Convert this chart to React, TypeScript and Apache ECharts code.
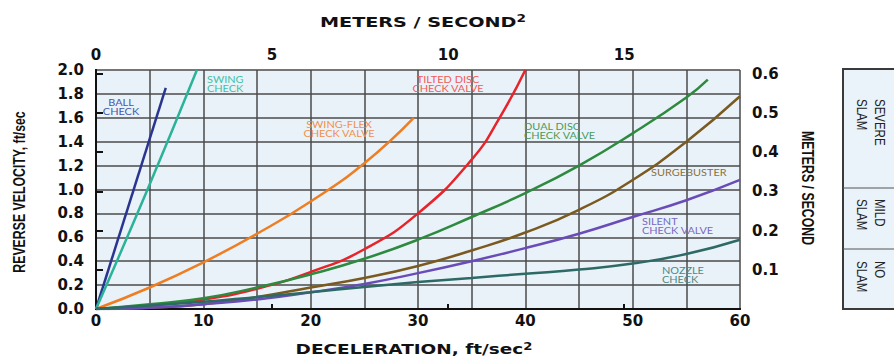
import React, { useEffect, useRef } from 'react';
import * as echarts from 'echarts';

const FT_PER_M = 3.28084;
const decelMax = 60;
const velocityMax = 2.0;
const bottomLabelValues = [0, 10, 20, 30, 40, 50, 60];
const topTickValues = [0, 5, 10, 15];
const rightTickValues = [0.1, 0.2, 0.3, 0.4, 0.5, 0.6];

const ballCheck = [[0, 0], [6.5, 1.85]];
const swingCheck = [[0, 0], [4.8, 1.0], [9.4, 2.0]];
const swingFlex = [[0, 0], [5, 0.18], [10, 0.39], [15, 0.63], [20, 0.9], [25, 1.22], [29.6, 1.6]];
const tiltedDisc = [[0, 0], [5, 0.03], [10, 0.08], [15, 0.17], [20, 0.31], [25, 0.5], [30, 0.8], [35, 1.25], [37.6, 1.6], [40, 2.0]];
const dualDisc = [[0, 0], [5, 0.04], [10, 0.09], [15, 0.18], [20, 0.29], [25, 0.42], [30, 0.58], [35, 0.77], [40, 0.97], [45, 1.2], [50, 1.47], [55, 1.77], [57, 1.92]];
const surgebuster = [[0, 0], [5, 0.01], [10, 0.04], [15, 0.1], [20, 0.18], [25, 0.26], [30, 0.36], [35, 0.49], [40, 0.64], [45, 0.83], [50, 1.08], [55, 1.4], [60, 1.78]];
const silentCheck = [[0, 0], [5, 0.01], [10, 0.04], [15, 0.08], [20, 0.14], [25, 0.21], [30, 0.3], [35, 0.4], [40, 0.51], [45, 0.63], [50, 0.77], [55, 0.91], [60, 1.08]];
const nozzleCheck = [[0, 0], [5, 0.03], [10, 0.06], [15, 0.1], [20, 0.14], [25, 0.185], [30, 0.225], [35, 0.26], [40, 0.295], [45, 0.33], [50, 0.38], [55, 0.46], [60, 0.58]];

const seriesDefs = [
  { name: 'Ball Check', data: ballCheck, color: '#2a3590' },
  { name: 'Swing Check', data: swingCheck, color: '#2bb39a' },
  { name: 'Swing-Flex Check Valve', data: swingFlex, color: '#ef7d22' },
  { name: 'Tilted Disc Check Valve', data: tiltedDisc, color: '#e8232a' },
  { name: 'Dual Disc Check Valve', data: dualDisc, color: '#2d8a3e' },
  { name: 'Surgebuster', data: surgebuster, color: '#7a5a20' },
  { name: 'Silent Check Valve', data: silentCheck, color: '#6a4cb8' },
  { name: 'Nozzle Check', data: nozzleCheck, color: '#2d6a66' },
];

const curveLabels = [
  { text: 'BALL\nCHECK', x: 121, y: 107, align: 'center', color: '#4a56a8' },
  { text: 'SWING\nCHECK', x: 207, y: 83.5, align: 'left', color: '#3fc0a8' },
  { text: 'TILTED DISC\nCHECK VALVE', x: 448, y: 84, align: 'center', color: '#f05a5a' },
  { text: 'SWING-FLEX\nCHECK VALVE', x: 339, y: 129, align: 'center', color: '#f0904a' },
  { text: 'DUAL DISC\nCHECK VALVE', x: 524, y: 131, align: 'left', color: '#4a9a5a' },
  { text: 'SURGEBUSTER', x: 651, y: 172, align: 'left', color: '#8a7040' },
  { text: 'SILENT\nCHECK VALVE', x: 642, y: 226, align: 'left', color: '#7a68c0' },
  { text: 'NOZZLE\nCHECK', x: 662, y: 275, align: 'left', color: '#4a8a88' },
];

const slamRows = [
  { text: 'SEVERE\nSLAM', y: 99 },
  { text: 'MILD\nSLAM', y: 199 },
  { text: 'NO\nSLAM', y: 261 },
];

const tickFont = { fontFamily: 'DejaVu Sans', fontWeight: 'bold', fontSize: 15, color: '#111' };

function titleText(x: number, y: number, main: string, scaleX: number) {
  return {
    type: 'text', x, y, scaleX, z: 10,
    style: {
      text: `{a|${main}}{s|2}`, align: 'center', verticalAlign: 'middle',
      rich: {
        a: { fontFamily: 'DejaVu Sans', fontWeight: 'bold', fontSize: 14, fill: '#111', lineHeight: 15, verticalAlign: 'bottom' },
        s: { fontFamily: 'DejaVu Sans', fontWeight: 'bold', fontSize: 10, fill: '#111', lineHeight: 15, verticalAlign: 'top' },
      },
    },
  };
}

export default function App() {
  const ref = useRef<HTMLDivElement>(null);
  useEffect(() => {
    if (!ref.current) return;
    const chart = echarts.init(ref.current, undefined, { renderer: 'svg' });
    const graphics: any[] = [];
    graphics.push({
      type: 'rect', shape: { x: 843, y: 69, width: 70, height: 240 },
      style: { fill: '#eaf3f9', stroke: '#3a3a3a', lineWidth: 2 }, z: 1,
    });
    graphics.push({ type: 'line', shape: { x1: 843, y1: 188, x2: 894, y2: 188 }, style: { stroke: '#555', lineWidth: 1 }, z: 2 });
    graphics.push({ type: 'line', shape: { x1: 843, y1: 249, x2: 894, y2: 249 }, style: { stroke: '#555', lineWidth: 1 }, z: 2 });
    slamRows.forEach((r) => {
      graphics.push({
        type: 'text', x: 871, y: r.y, rotation: -Math.PI / 2, scaleX: 0.82, z: 3,
        style: {
          text: r.text, fontFamily: 'Liberation Sans', fontSize: 14, fill: '#222',
          align: 'left', verticalAlign: 'middle', lineHeight: 18,
        },
      });
    });
    curveLabels.forEach((l) => {
      graphics.push({
        type: 'text', x: l.x, y: l.y, scaleX: 1.15, z: 10,
        style: {
          text: l.text, fontFamily: 'Lato', fontSize: 9.5, fill: l.color,
          align: l.align, verticalAlign: 'middle', lineHeight: 9,
        },
      });
    });
    graphics.push(titleText(423, 21, 'METERS / SECOND', 1.37));
    graphics.push(titleText(414, 349, 'DECELERATION, ft/sec', 1.32));
    graphics.push({
      type: 'text', x: 19, y: 192, rotation: Math.PI / 2, scaleX: 0.77, z: 10,
      style: { text: 'REVERSE VELOCITY, ft/sec', fontFamily: 'Liberation Sans', fontWeight: 'bold', fontSize: 16, fill: '#111', align: 'center', verticalAlign: 'middle' },
    });
    graphics.push({
      type: 'text', x: 808, y: 188, rotation: -Math.PI / 2, scaleX: 0.77, z: 10,
      style: { text: 'METERS / SECOND', fontFamily: 'Liberation Sans', fontWeight: 'bold', fontSize: 16, fill: '#111', align: 'center', verticalAlign: 'middle' },
    });

    const axisLine = { show: true, lineStyle: { color: '#111', width: 2 } };

    chart.setOption({
      animation: false,
      backgroundColor: '#ffffff',
      grid: { left: 96, right: 154, top: 70, bottom: 49, show: true, backgroundColor: '#e9f2f8', borderWidth: 0 },
      xAxis: [
        {
          type: 'value', position: 'bottom', min: 0, max: decelMax, interval: 5,
          axisLine, axisTick: { show: false },
          axisLabel: {
            ...tickFont, margin: 4,
            formatter: (v: number) => (bottomLabelValues.includes(v) ? String(v) : ''),
          },
          splitLine: { show: true, lineStyle: { color: '#4a4a4a', width: 1.5 } },
        },
        {
          type: 'value', position: 'top', min: 0, max: decelMax / FT_PER_M, interval: 5,
          axisLine, axisTick: { show: true, length: 5, lineStyle: { color: '#111', width: 2 }, customValues: topTickValues },
          axisLabel: {
            ...tickFont, margin: 8, customValues: topTickValues,
            formatter: (v: number) => (topTickValues.includes(v) ? String(v) : ''),
          },
          splitLine: { show: false },
        },
      ],
      yAxis: [
        {
          type: 'value', position: 'left', min: 0, max: velocityMax, interval: 0.2,
          axisLine, axisTick: { show: false },
          axisLabel: { ...tickFont, margin: 12, formatter: (v: number) => v.toFixed(1) },
          splitLine: { show: true, lineStyle: { color: '#4a4a4a', width: 1.5 } },
        },
        {
          type: 'value', position: 'right', min: 0, max: velocityMax / FT_PER_M, interval: 0.1,
          axisLine, axisTick: { show: true, inside: false, length: 7, lineStyle: { color: '#111', width: 2 }, customValues: rightTickValues },
          axisLabel: {
            ...tickFont, margin: 12, customValues: rightTickValues,
            formatter: (v: number) => (rightTickValues.some((t) => Math.abs(t - v) < 1e-6) ? v.toFixed(1) : ''),
          },
          splitLine: { show: false },
        },
      ],
      series: seriesDefs.map((s) => ({
        name: s.name, type: 'line', xAxisIndex: 0, yAxisIndex: 0,
        data: s.data, smooth: 0.5, showSymbol: false, symbol: 'none',
        lineStyle: { color: s.color, width: 2.5 }, z: 5,
      })),
      graphic: graphics,
    });
    return () => chart.dispose();
  }, []);
  return <div ref={ref} style={{ position: 'fixed', left: 0, top: 0, width: 894, height: 358 }} />;
}
